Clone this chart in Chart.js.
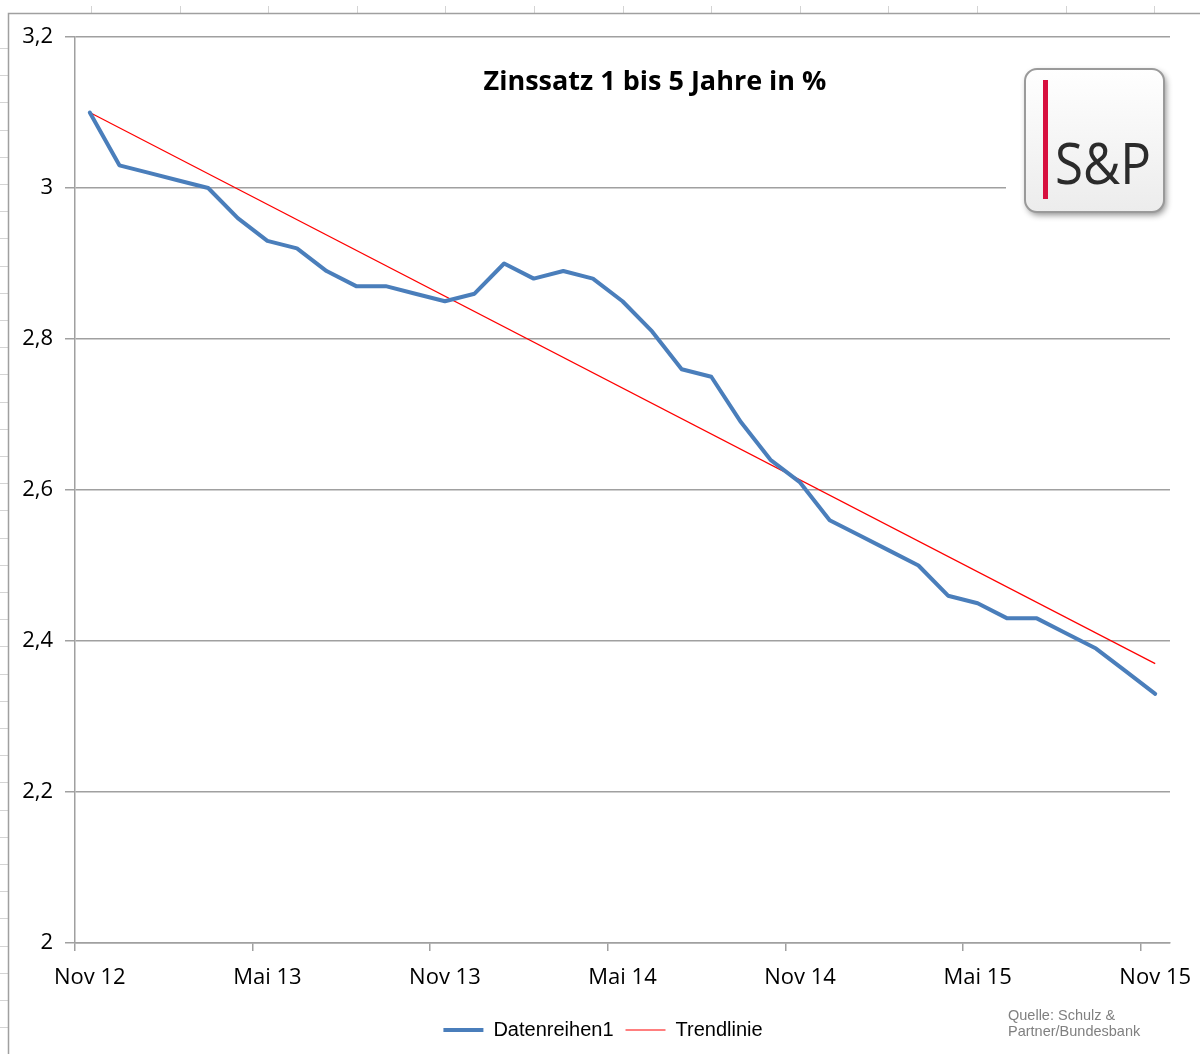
<!DOCTYPE html>
<html>
<head>
<meta charset="utf-8">
<script src="https://cdn.jsdelivr.net/npm/chart.js@4.4.0/dist/chart.umd.min.js"></script>
<style>
    body { margin: 0; background: #fff; }
    #wrap { width: 1200px; height: 1054px; }
</style>
</head>
<body>
<div id="wrap"><canvas id="zinsChart"></canvas></div>
<script>
// Monate Nov 12 - Nov 15
const monate = [
    'Nov 12', 'Dez 12', 'Jan 13', 'Feb 13', 'Mrz 13', 'Apr 13', 'Mai 13', 'Jun 13', 'Jul 13', 'Aug 13', 'Sep 13', 'Okt 13',
    'Nov 13', 'Dez 13', 'Jan 14', 'Feb 14', 'Mrz 14', 'Apr 14', 'Mai 14', 'Jun 14', 'Jul 14', 'Aug 14', 'Sep 14', 'Okt 14',
    'Nov 14', 'Dez 14', 'Jan 15', 'Feb 15', 'Mrz 15', 'Apr 15', 'Mai 15', 'Jun 15', 'Jul 15', 'Aug 15', 'Sep 15', 'Okt 15',
    'Nov 15'
];
const zinsWerte = [
    3.10, 3.03, 3.02, 3.01, 3.00, 2.96, 2.93, 2.92, 2.89, 2.87, 2.87, 2.86,
    2.85, 2.86, 2.90, 2.88, 2.89, 2.88, 2.85, 2.81, 2.76, 2.75, 2.69, 2.64,
    2.61, 2.56, 2.54, 2.52, 2.50, 2.46, 2.45, 2.43, 2.43, 2.41, 2.39, 2.36,
    2.33
];
// Trendlinie: Anfangs- und Endwert
const trendStart = 3.10;
const trendEnd = 2.37;
const xTickLabels = ['Nov 12', 'Mai 13', 'Nov 13', 'Mai 14', 'Nov 14', 'Mai 15', 'Nov 15'];
const yTickWerte = [2, 2.2, 2.4, 2.6, 2.8, 3, 3.2];

const grau = '#a0a0a0';

// Hintergrund + Rahmen wie im Excel-Blatt
const rahmenPlugin = {
    id: 'rahmen',
    afterLayout(chart) {
        // Legende etwas nach rechts, wie im Original
        chart.legend.left += 18;
        chart.legend.right += 18;
    },
    beforeDraw(chart) {
        const ctx = chart.ctx;
        ctx.save();
        ctx.fillStyle = '#fff';
        ctx.fillRect(0, 0, chart.width, chart.height);
        ctx.strokeStyle = '#d4d4d4';
        ctx.lineWidth = 1;
        ctx.beginPath();
        for (let x = 91; x < chart.width; x += 88.6) {
            ctx.moveTo(Math.round(x) + 0.5, 6);
            ctx.lineTo(Math.round(x) + 0.5, 13);
        }
        for (let y = 48; y < chart.height; y += 27.2) {
            ctx.moveTo(0, Math.round(y) + 0.5);
            ctx.lineTo(8, Math.round(y) + 0.5);
        }
        ctx.stroke();
        ctx.strokeStyle = grau;
        ctx.lineWidth = 1.5;
        ctx.beginPath();
        ctx.moveTo(8.5, chart.height);
        ctx.lineTo(8.5, 13.5);
        ctx.lineTo(chart.width, 13.5);
        ctx.stroke();
        ctx.restore();
    }
};

// Titel, Logo und Quelle
const dekorPlugin = {
    id: 'dekor',
    afterDraw(chart) {
        const ctx = chart.ctx;
        ctx.save();
        ctx.fillStyle = '#000';
        ctx.font = 'bold 27px "Open Sans"';
        ctx.textAlign = 'center';
        ctx.textBaseline = 'middle';
        ctx.fillText('Zinssatz 1 bis 5 Jahre in %', 655, 82);

        // Logo
        ctx.fillStyle = '#fff';
        ctx.fillRect(1006, 45, 164, 185);
        ctx.shadowColor = 'rgba(0,0,0,0.45)';
        ctx.shadowBlur = 6;
        ctx.shadowOffsetX = 2;
        ctx.shadowOffsetY = 3;
        const grad = ctx.createLinearGradient(0, 68, 0, 213);
        grad.addColorStop(0, '#ffffff');
        grad.addColorStop(1, '#ececec');
        ctx.fillStyle = grad;
        ctx.beginPath();
        ctx.roundRect(1025, 69, 139, 143, 12);
        ctx.fill();
        ctx.shadowColor = 'transparent';
        ctx.strokeStyle = '#9a9a9a';
        ctx.lineWidth = 2;
        ctx.stroke();
        ctx.fillStyle = '#d7103f';
        ctx.fillRect(1043, 80, 5, 119);
        ctx.fillStyle = '#2b2b2b';
        ctx.font = '56px "Open Sans"';
        ctx.textAlign = 'left';
        ctx.textBaseline = 'alphabetic';
        ctx.fillText('S&P', 1055, 184, 96);

        // Quelle
        ctx.fillStyle = '#808080';
        ctx.font = '14.5px "Liberation Sans"';
        ctx.textBaseline = 'middle';
        ctx.fillText('Quelle: Schulz &', 1008, 1016);
        ctx.fillText('Partner/Bundesbank', 1008, 1032);
        ctx.restore();
    }
};

const zinsCtx = document.getElementById('zinsChart').getContext('2d');
const zinsChart = new Chart(zinsCtx, {
    type: 'line',
    data: {
        labels: monate,
        datasets: [{
            label: 'Datenreihen1',
            data: zinsWerte,
            borderColor: '#4a7ebb',
            backgroundColor: '#4a7ebb',
            borderWidth: 4,
            borderJoinStyle: 'round',
            borderCapStyle: 'round',
            pointRadius: 0,
            tension: 0
        }, {
            label: 'Trendlinie',
            data: [
                { x: monate[0], y: trendStart },
                { x: monate[monate.length - 1], y: trendEnd }
            ],
            borderColor: '#ff0000',
            backgroundColor: '#ff0000',
            borderWidth: 1.2,
            pointRadius: 0,
            tension: 0
        }]
    },
    options: {
        responsive: true,
        maintainAspectRatio: false,
        animation: false,
        layout: {
            padding: { top: 37, right: 30, left: 0, bottom: 4 }
        },
        plugins: {
            legend: {
                position: 'bottom',
                labels: {
                    usePointStyle: true,
                    pointStyle: 'line',
                    pointStyleWidth: 40,
                    padding: 12,
                    color: '#000',
                    font: { family: '"Liberation Sans"', size: 20 }
                }
            },
            tooltip: { enabled: false }
        },
        scales: {
            x: {
                offset: true,
                afterFit(scale) {
                    scale.height = 65;
                    scale.paddingLeft = 0;
                    scale.paddingRight = 0;
                },
                grid: {
                    offset: true,
                    drawOnChartArea: false,
                    tickLength: 8,
                    lineWidth: 1.5,
                    tickColor: ctx => xTickLabels.includes(monate[ctx.index]) ? grau : 'rgba(0,0,0,0)'
                },
                border: { color: grau, width: 1.5 },
                ticks: {
                    autoSkip: false,
                    maxRotation: 0,
                    padding: 14,
                    color: '#000',
                    font: { family: '"Open Sans"', size: 22 },
                    callback(val, i) {
                        const l = monate[i];
                        return xTickLabels.includes(l) ? l : '';
                    }
                }
            },
            y: {
                min: 2,
                max: 3.2,
                afterFit(scale) { scale.width = 75; },
                afterBuildTicks(scale) {
                    scale.ticks = yTickWerte.map(v => ({ value: v }));
                },
                grid: {
                    color: grau,
                    lineWidth: 1.5,
                    tickLength: 10
                },
                border: { color: grau, width: 1.5 },
                ticks: {
                    padding: 12,
                    color: '#000',
                    font: { family: '"Open Sans"', size: 22 },
                    callback: v => String(v).replace('.', ',')
                }
            }
        }
    },
    plugins: [rahmenPlugin, dekorPlugin]
});
</script>
</body>
</html>
